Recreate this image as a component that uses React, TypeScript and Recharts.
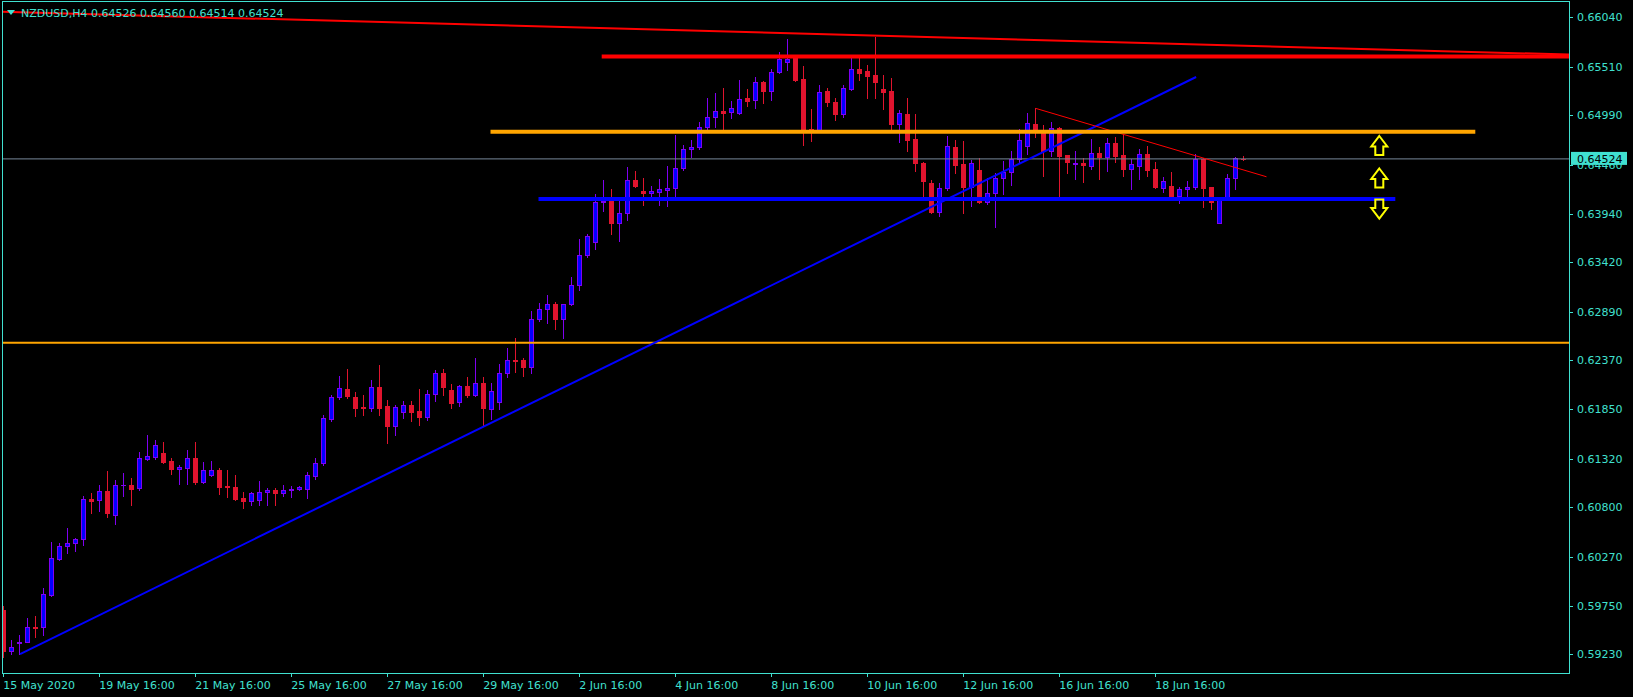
import React from 'react';
import { ComposedChart, Bar, XAxis, YAxis, ReferenceLine, ReferenceDot } from 'recharts';

// NZDUSD H4 bars, 15 May 2020 16:00 -> 22 Jun 2020 12:00
const OPEN = [
  0.59703, 0.59268, 0.59356, 0.59364, 0.59521, 0.59518, 0.59867, 0.60245, 0.60384, 0.60416,
  0.60459, 0.6089, 0.60876, 0.60972, 0.60716, 0.61034, 0.61036, 0.6101, 0.6132, 0.61342,
  0.61378, 0.61296, 0.61214, 0.61224, 0.61325, 0.61075, 0.61146, 0.61196, 0.61029, 0.61015,
  0.609, 0.60865, 0.60882, 0.60961, 0.60986, 0.60957, 0.60982, 0.60993, 0.60999, 0.61139,
  0.61271, 0.61748, 0.61977, 0.62062, 0.61977, 0.61873, 0.61859, 0.62082, 0.61884, 0.61673,
  0.61823, 0.61895, 0.6183, 0.61769, 0.62009, 0.62233, 0.62055, 0.61923, 0.62093, 0.62005,
  0.62126, 0.61855, 0.61923, 0.62233, 0.62375, 0.62371, 0.62302, 0.6281, 0.62917, 0.6297,
  0.6281, 0.6297, 0.63173, 0.63494, 0.63634, 0.6406, 0.64078, 0.63836, 0.63943, 0.64296,
  0.64181, 0.64156, 0.64174, 0.64192, 0.6421, 0.64424, 0.64626, 0.64648, 0.64861, 0.64968,
  0.65035, 0.65021, 0.65011, 0.65171, 0.6515, 0.65342, 0.65252, 0.65449, 0.65556, 0.65599,
  0.65378, 0.64843, 0.64833, 0.65249, 0.65132, 0.65007, 0.65271, 0.65485, 0.65463, 0.65421,
  0.65271, 0.65249, 0.64897, 0.65004, 0.64737, 0.64477, 0.64263, 0.6396, 0.6421, 0.64648,
  0.64469, 0.64227, 0.64406, 0.64067, 0.64156, 0.64317, 0.64381, 0.6452, 0.64665, 0.64897,
  0.64814, 0.64612, 0.64851, 0.64566, 0.64473, 0.64483, 0.64451, 0.64584, 0.64547, 0.64691,
  0.64562, 0.64416, 0.64451, 0.64573, 0.64416, 0.64216, 0.64231, 0.64128, 0.64199, 0.64227,
  0.64526, 0.64221, 0.63842, 0.64103, 0.64317, 0.64526,
];
const HIGH = [
  0.59746, 0.59383, 0.59436, 0.59618, 0.59639, 0.59935, 0.60427, 0.60416, 0.60577, 0.6047,
  0.60922, 0.60957, 0.61036, 0.61189, 0.61093, 0.61164, 0.61111, 0.61392, 0.61574, 0.6152,
  0.61499, 0.61325, 0.6125, 0.61413, 0.61499, 0.61285, 0.61296, 0.61221, 0.612, 0.61146,
  0.60961, 0.60961, 0.61082, 0.6101, 0.61004, 0.61036, 0.61029, 0.61029, 0.61175, 0.61325,
  0.61788, 0.62001, 0.62204, 0.62279, 0.62033, 0.62001, 0.62162, 0.62322, 0.61948, 0.61895,
  0.61937, 0.61937, 0.62066, 0.62055, 0.62268, 0.62279, 0.62119, 0.6211, 0.6219, 0.62394,
  0.6219, 0.62126, 0.62333, 0.625, 0.62607, 0.62394, 0.62898, 0.62987, 0.63069, 0.62991,
  0.62973, 0.63259, 0.63668, 0.63718, 0.64149, 0.64299, 0.64203, 0.64074, 0.64434, 0.64395,
  0.64317, 0.64234, 0.64309, 0.64448, 0.64779, 0.64672, 0.64726, 0.64915, 0.65171, 0.65225,
  0.65278, 0.65142, 0.65367, 0.65267, 0.65399, 0.65356, 0.65485, 0.65663, 0.65805, 0.65634,
  0.65517, 0.65057, 0.65314, 0.65285, 0.65171, 0.65314, 0.65599, 0.65599, 0.65527, 0.6583,
  0.65421, 0.65385, 0.65046, 0.65171, 0.65004, 0.64494, 0.64299, 0.64263, 0.64769, 0.64726,
  0.64715, 0.64512, 0.64537, 0.64317, 0.6437, 0.64505, 0.64609, 0.64843, 0.65017, 0.65064,
  0.64887, 0.64915, 0.64868, 0.6457, 0.64609, 0.6453, 0.64737, 0.64648, 0.64744, 0.64761,
  0.64787, 0.64523, 0.64629, 0.64661, 0.64494, 0.64327, 0.64387, 0.64227, 0.64288, 0.64573,
  0.64537, 0.64225, 0.64106, 0.64363, 0.64547, 0.6456,
];
const LOW = [
  0.59204, 0.59233, 0.59233, 0.59361, 0.59418, 0.59436, 0.59853, 0.60238, 0.60316, 0.60337,
  0.60398, 0.60743, 0.60765, 0.607, 0.60623, 0.60925, 0.60826, 0.60986, 0.61306, 0.61317,
  0.61271, 0.61157, 0.61053, 0.61053, 0.61053, 0.61057, 0.61139, 0.60943, 0.60914, 0.60884,
  0.60797, 0.60826, 0.60826, 0.60826, 0.60826, 0.60925, 0.60914, 0.60986, 0.60904, 0.61106,
  0.6125, 0.6172, 0.61955, 0.61973, 0.6178, 0.61791, 0.6183, 0.61788, 0.61492, 0.61574,
  0.61759, 0.61727, 0.61681, 0.61734, 0.61941, 0.62001, 0.61863, 0.61884, 0.61983, 0.61991,
  0.6167, 0.61742, 0.61849, 0.62197, 0.6225, 0.62207, 0.62239, 0.62795, 0.62773, 0.62709,
  0.62613, 0.62966, 0.63126, 0.63479, 0.63559, 0.63967, 0.63719, 0.6365, 0.63871, 0.64221,
  0.64032, 0.64114, 0.64032, 0.64021, 0.6412, 0.64406, 0.64547, 0.64626, 0.64832, 0.64867,
  0.64832, 0.64957, 0.65, 0.65092, 0.65071, 0.65124, 0.65153, 0.65439, 0.65474, 0.65356,
  0.64672, 0.64715, 0.64829, 0.65089, 0.6494, 0.64972, 0.6526, 0.65367, 0.65175, 0.65175,
  0.65057, 0.64843, 0.64708, 0.64612, 0.64398, 0.6412, 0.63949, 0.63915, 0.64192, 0.64377,
  0.63949, 0.64021, 0.6405, 0.64042, 0.638, 0.64149, 0.64246, 0.64494, 0.64581, 0.6476,
  0.64342, 0.64555, 0.64114, 0.64377, 0.64309, 0.6428, 0.64419, 0.64309, 0.64398, 0.64494,
  0.64342, 0.64203, 0.64309, 0.64342, 0.64216, 0.6417, 0.64103, 0.64056, 0.64114, 0.64199,
  0.64013, 0.63992, 0.63836, 0.64085, 0.64203, 0.64514,
];
const CLOSE = [
  0.59265, 0.59305, 0.59361, 0.59518, 0.59511, 0.59871, 0.60256, 0.60387, 0.60416, 0.60459,
  0.60886, 0.60872, 0.60972, 0.60743, 0.61036, 0.61036, 0.60999, 0.61325, 0.61346, 0.61463,
  0.61288, 0.61214, 0.61228, 0.61325, 0.61075, 0.61196, 0.61196, 0.61021, 0.61018, 0.60893,
  0.60865, 0.60951, 0.60961, 0.60986, 0.60957, 0.60986, 0.60999, 0.61018, 0.61146, 0.61271,
  0.61752, 0.6198, 0.62073, 0.61991, 0.61866, 0.61863, 0.62082, 0.61866, 0.61673, 0.6187,
  0.61895, 0.61823, 0.61769, 0.62009, 0.62233, 0.62089, 0.61919, 0.62093, 0.62005, 0.62126,
  0.61866, 0.62041, 0.62233, 0.62371, 0.62364, 0.62302, 0.6281, 0.62917, 0.6297, 0.6281,
  0.6297, 0.63173, 0.63494, 0.63697, 0.6406, 0.64078, 0.63836, 0.63943, 0.64296, 0.64238,
  0.64156, 0.64181, 0.64203, 0.64213, 0.64424, 0.64629, 0.64648, 0.64861, 0.64968, 0.65032,
  0.65011, 0.65064, 0.6516, 0.65146, 0.65342, 0.65252, 0.65449, 0.65592, 0.65592, 0.65367,
  0.64833, 0.64829, 0.65239, 0.65135, 0.65007, 0.65278, 0.65481, 0.65442, 0.65413, 0.65349,
  0.65242, 0.64897, 0.65011, 0.64726, 0.64477, 0.64291, 0.6396, 0.6421, 0.64661, 0.64462,
  0.64227, 0.64477, 0.64067, 0.64156, 0.64317, 0.64381, 0.6452, 0.64726, 0.64905, 0.64811,
  0.64609, 0.64851, 0.64558, 0.64494, 0.6448, 0.64459, 0.64584, 0.64547, 0.64691, 0.64558,
  0.64416, 0.64469, 0.64573, 0.64406, 0.64224, 0.64288, 0.64128, 0.64199, 0.64227, 0.64523,
  0.64216, 0.64067, 0.64103, 0.64317, 0.6453, 0.64524,
];

const X_TICKS = [0, 12, 24, 36, 48, 60, 72, 84, 96, 108, 120, 132, 144];
const X_LABELS = [
  '15 May 2020', '19 May 16:00', '21 May 16:00', '25 May 16:00', '27 May 16:00', '29 May 16:00',
  '2 Jun 16:00', '4 Jun 16:00', '8 Jun 16:00', '10 Jun 16:00', '12 Jun 16:00', '16 Jun 16:00', '18 Jun 16:00',
];
const Y_TICKS = [
  0.5923, 0.5975, 0.6027, 0.608, 0.6132, 0.6185, 0.6237,
  0.6289, 0.6342, 0.6394, 0.6446, 0.6499, 0.6551, 0.6604,
];
const LAST_PRICE = 0.64524;

// drawn objects
const LEVEL_LOW = 0.6256;
const SUPPORT = { from: 66.9, to: 174, price: 0.64095 };
const RESISTANCE = { from: 60.9, to: 184, price: 0.64814 };
const TOP_LEVEL = { from: 74.8, price: 0.65618 };
const UP_TREND = [{ x: 2.09, y: 0.59233 }, { x: 149.1, y: 0.65399 }];
const DOWN_TREND = [{ x: 129.05, y: 0.65064 }, { x: 157.9, y: 0.64333 }];
const LONG_TREND = { start: 0.66097, end: 0.65639 };
const ARROWS = [
  { x: 172, y: 0.64667, dir: 1 },
  { x: 172, y: 0.6432, dir: 1 },
  { x: 172, y: 0.63988, dir: -1 },
];

const X_DOMAIN: [number, number] = [-0.1625, 195.7125];
const Y_DOMAIN: [number, number] = [0.590303, 0.662006];

const AXIS = '#40E0D0';
const BULL_FILL = '#0000FF';
const BULL_EDGE = '#8000F0';
const BEAR = '#E0142E';
const FONT = 'DejaVu Sans';

const data = OPEN.map((o, i) => ({ i, o, h: HIGH[i], l: LOW[i], c: CLOSE[i] }));

const Candle = (props: any) => {
  const { x, y, width, height, payload } = props;
  const { o, h, l, c } = payload;
  const top = Math.min(y, y + height);
  const bottom = Math.max(y, y + height);
  const span = h - l || 1e-9;
  const py = (p: number) => bottom - ((p - l) / span) * (bottom - top);
  const cx = Math.floor(x + width / 2) + 0.5;
  const bull = c >= o;
  const edge = bull ? BULL_EDGE : BEAR;
  const fill = bull ? BULL_FILL : BEAR;
  const bt = Math.round(py(Math.max(o, c))) + 0.5;
  const bb = Math.round(py(Math.min(o, c))) + 0.5;
  return (
    <g>
      <line x1={cx} x2={cx} y1={Math.round(top)} y2={Math.round(bottom) + 1} stroke={edge} strokeWidth={1} />
      {bb - bt >= 1 ? (
        <rect x={cx - 2} y={bt} width={4} height={bb - bt} fill={fill} stroke={edge} strokeWidth={1} />
      ) : (
        <line x1={cx - 2.5} x2={cx + 2.5} y1={bt} y2={bt} stroke={edge} strokeWidth={1} />
      )}
    </g>
  );
};

const Arrow = (props: any) => {
  const { cx, cy, dir } = props;
  const pts = [[0, -9.5], [8, 1], [4, 1], [4, 9.5], [-4, 9.5], [-4, 1], [-8, 1]]
    .map(([px, py]) => `${cx + px},${cy + py * dir}`)
    .join(' ');
  return <polygon points={pts} fill="none" stroke="#FFFF00" strokeWidth={2} />;
};

const XTick = (props: any) => {
  const { x, y, payload } = props;
  const label = X_LABELS[X_TICKS.indexOf(payload.value)];
  const lx = Math.floor(x) + 0.5;
  return (
    <g>
      <line x1={lx} x2={lx} y1={y - 4} y2={y} stroke={AXIS} />
      <text x={x} y={y + 12} fill={AXIS} fontSize={11} fontFamily={FONT} textAnchor="start">
        {label}
      </text>
    </g>
  );
};

const YTick = (props: any) => {
  const { x, y, payload } = props;
  const v = payload.value as number;
  if (v === LAST_PRICE) {
    return (
      <g>
        <rect x={x - 6} y={y - 7} width={56} height={13} fill={AXIS} />
        <text x={x} y={y} dy={4} fill="#000" fontSize={11} fontFamily={FONT} textAnchor="start">
          {v.toFixed(5)}
        </text>
      </g>
    );
  }
  const ly = Math.round(y) + 0.5;
  return (
    <g>
      <line x1={x - 8} x2={x - 4} y1={ly} y2={ly} stroke={AXIS} />
      <text x={x} y={y} dy={4} fill={AXIS} fontSize={11} fontFamily={FONT} textAnchor="start">
        {v.toFixed(5)}
      </text>
    </g>
  );
};

export default function App() {
  return (
    <div style={{ position: 'fixed', left: 0, top: 0, width: 1633, height: 697, background: '#000' }}>
      <ComposedChart width={1633} height={697} data={data} margin={{ top: 2, right: 0, bottom: 0, left: 2 }}>
        <XAxis
          type="number"
          dataKey="i"
          domain={X_DOMAIN}
          allowDataOverflow
          ticks={X_TICKS}
          interval={0}
          tick={<XTick />}
          tickLine={false}
          axisLine={false}
          tickSize={4}
          tickMargin={0}
          height={24}
        />
        <YAxis
          orientation="right"
          type="number"
          domain={Y_DOMAIN}
          allowDataOverflow
          ticks={[...Y_TICKS, LAST_PRICE]}
          interval={0}
          tick={<YTick />}
          tickLine={false}
          axisLine={false}
          tickSize={4}
          tickMargin={4}
          width={64}
        />
        <Bar
          dataKey={(d: any) => [d.l, d.h]}
          barSize={6}
          shape={(p: any) => <Candle {...p} />}
          isAnimationActive={false}
        />
        <ReferenceLine y={LAST_PRICE} stroke="#778899" strokeWidth={1} ifOverflow="visible" />
        <ReferenceLine y={LEVEL_LOW} stroke="#FFA500" strokeWidth={2} ifOverflow="visible" />
        <ReferenceLine segment={UP_TREND} stroke="#0000FF" strokeWidth={2} ifOverflow="visible" />
        <ReferenceLine segment={DOWN_TREND} stroke="#FF0000" strokeWidth={1} ifOverflow="visible" />
        <ReferenceLine
          segment={[{ x: SUPPORT.from, y: SUPPORT.price }, { x: SUPPORT.to, y: SUPPORT.price }]}
          stroke="#0000FF"
          strokeWidth={4}
          ifOverflow="visible"
        />
        <ReferenceLine
          segment={[{ x: RESISTANCE.from, y: RESISTANCE.price }, { x: RESISTANCE.to, y: RESISTANCE.price }]}
          stroke="#FFA500"
          strokeWidth={4}
          ifOverflow="visible"
        />
        <ReferenceLine
          segment={[{ x: X_DOMAIN[0], y: LONG_TREND.start }, { x: X_DOMAIN[1], y: LONG_TREND.end }]}
          stroke="#FF0000"
          strokeWidth={2}
          ifOverflow="visible"
        />
        <ReferenceLine
          segment={[{ x: TOP_LEVEL.from, y: TOP_LEVEL.price }, { x: X_DOMAIN[1], y: TOP_LEVEL.price }]}
          stroke="#FF0000"
          strokeWidth={4}
          ifOverflow="visible"
        />
        {ARROWS.map((a, k) => (
          <ReferenceDot
            key={k}
            x={a.x}
            y={a.y}
            r={10}
            ifOverflow="visible"
            shape={(p: any) => <Arrow cx={p.cx} cy={p.cy} dir={a.dir} />}
          />
        ))}
      </ComposedChart>
      <svg width={1633} height={697} style={{ position: 'absolute', left: 0, top: 0, pointerEvents: 'none' }}>
        <rect x={2.5} y={1.5} width={1567} height={672} fill="none" stroke={AXIS} strokeWidth={1} />
        <polygon points="7,10 15,10 11,15" fill={AXIS} />
        <text x={21} y={17} fill={AXIS} fontSize={11} fontFamily={FONT}>
          NZDUSD,H4  0.64526 0.64560 0.64514 0.64524
        </text>
      </svg>
    </div>
  );
}
